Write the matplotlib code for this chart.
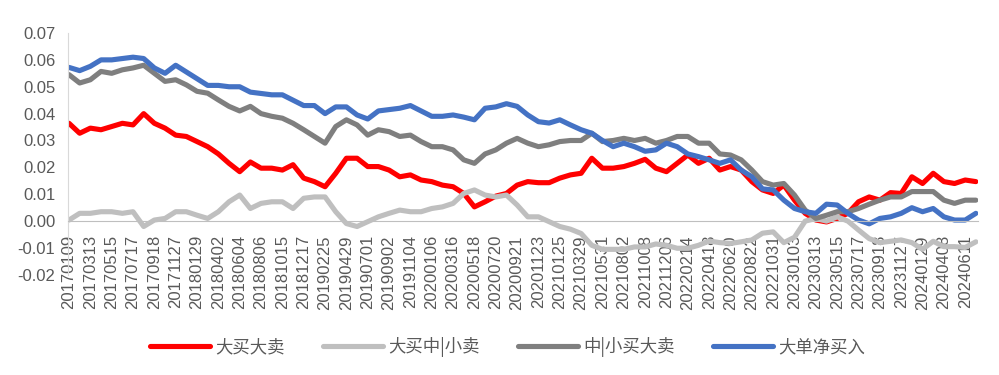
import numpy as np
import matplotlib
matplotlib.use('Agg')
import matplotlib.pyplot as plt

plt.rcParams['font.family'] = ['Liberation Sans', 'Noto Sans CJK SC', 'DejaVu Sans']

dates = ['20170109', '20170313', '20170515', '20170717', '20170918', '20171127',
         '20180129', '20180402', '20180604', '20180806', '20181015', '20181217',
         '20190225', '20190429', '20190701', '20190902', '20191104', '20200106',
         '20200316', '20200518', '20200720', '20200921', '20201123', '20210125',
         '20210329', '20210531', '20210802', '20211008', '20211206', '20220214',
         '20220418', '20220620', '20220822', '20221031', '20230103', '20230313',
         '20230515', '20230717', '20230918', '20231127', '20240129', '20240408',
         '20240611']

# 大买大卖
big_big = [0.0364, 0.0327, 0.0346, 0.0340, 0.0352, 0.0364, 0.0358, 0.0400, 0.0364, 0.0346,
           0.0320, 0.0315, 0.0296, 0.0277, 0.0250, 0.0215, 0.0184, 0.0220, 0.0197, 0.0197,
           0.0190, 0.0210, 0.0160, 0.0147, 0.0128, 0.0178, 0.0234, 0.0234, 0.0203, 0.0203,
           0.0190, 0.0165, 0.0172, 0.0153, 0.0147, 0.0134, 0.0128, 0.0103, 0.0053, 0.0072,
           0.0093, 0.0103, 0.0134, 0.0147, 0.0143, 0.0143, 0.0160, 0.0172, 0.0178, 0.0234,
           0.0197, 0.0197, 0.0203, 0.0215, 0.0230, 0.0197, 0.0184, 0.0215, 0.0246, 0.0215,
           0.0234, 0.0190, 0.0203, 0.0190, 0.0147, 0.0116, 0.0103, 0.0134, 0.0078, 0.0029,
           0.0004, -0.0003, 0.0010, 0.0029, 0.0072, 0.0090, 0.0078, 0.0106, 0.0103, 0.0165,
           0.0140, 0.0178, 0.0147, 0.0140, 0.0153, 0.0147]

# 大买中|小卖
big_small = [0.0004, 0.0029, 0.0029, 0.0035, 0.0035, 0.0029, 0.0035, -0.0020, 0.0004, 0.0010,
             0.0035, 0.0035, 0.0022, 0.0010, 0.0035, 0.0072, 0.0097, 0.0047, 0.0066, 0.0072,
             0.0072, 0.0047, 0.0085, 0.0090, 0.0090, 0.0035, -0.0009, -0.0020, -0.0002, 0.0016,
             0.0029, 0.0041, 0.0035, 0.0035, 0.0047, 0.0053, 0.0066, 0.0103, 0.0116, 0.0097,
             0.0090, 0.0097, 0.0060, 0.0016, 0.0016, -0.0002, -0.0020, -0.0030, -0.0046, -0.0090,
             -0.0105, -0.0105, -0.0105, -0.0096, -0.0096, -0.0085, -0.0090, -0.0101, -0.0101, -0.0090,
             -0.0074, -0.0080, -0.0083, -0.0077, -0.0070, -0.0045, -0.0040, -0.0080, -0.0060, 0.0000,
             0.0010, 0.0000, 0.0016, 0.0000, -0.0033, -0.0065, -0.0080, -0.0075, -0.0070, -0.0080,
             -0.0105, -0.0075, -0.0095, -0.0095, -0.0098, -0.0077]

# 中|小买大卖
small_big = [0.0545, 0.0514, 0.0526, 0.0557, 0.0550, 0.0563, 0.0570, 0.0580, 0.0550, 0.0520,
             0.0526, 0.0507, 0.0483, 0.0476, 0.0451, 0.0427, 0.0410, 0.0427, 0.0400, 0.0390,
             0.0383, 0.0364, 0.0340, 0.0315, 0.0290, 0.0352, 0.0377, 0.0358, 0.0320, 0.0340,
             0.0333, 0.0315, 0.0320, 0.0296, 0.0277, 0.0277, 0.0265, 0.0228, 0.0215, 0.0250,
             0.0265, 0.0290, 0.0308, 0.0290, 0.0277, 0.0284, 0.0296, 0.0300, 0.0300, 0.0327,
             0.0296, 0.0300, 0.0308, 0.0300, 0.0308, 0.0290, 0.0300, 0.0315, 0.0315, 0.0290,
             0.0290, 0.0250, 0.0246, 0.0228, 0.0190, 0.0147, 0.0134, 0.0140, 0.0097, 0.0041,
             0.0010, 0.0022, 0.0035, 0.0035, 0.0047, 0.0063, 0.0078, 0.0090, 0.0090, 0.0110,
             0.0110, 0.0110, 0.0078, 0.0066, 0.0078, 0.0078]

# 大单净买入
big_net = [0.0572, 0.0560, 0.0576, 0.0600, 0.0600, 0.0605, 0.0610, 0.0605, 0.0570, 0.0550,
           0.0580, 0.0555, 0.0530, 0.0505, 0.0505, 0.0500, 0.0500, 0.0480, 0.0475, 0.0470,
           0.0470, 0.0450, 0.0430, 0.0430, 0.0400, 0.0425, 0.0425, 0.0395, 0.0380, 0.0410,
           0.0415, 0.0420, 0.0430, 0.0410, 0.0390, 0.0390, 0.0395, 0.0387, 0.0377, 0.0420,
           0.0425, 0.0437, 0.0427, 0.0395, 0.0370, 0.0365, 0.0377, 0.0358, 0.0340, 0.0327,
           0.0300, 0.0277, 0.0290, 0.0277, 0.0260, 0.0265, 0.0290, 0.0277, 0.0250, 0.0240,
           0.0228, 0.0215, 0.0228, 0.0190, 0.0165, 0.0120, 0.0116, 0.0078, 0.0047, 0.0035,
           0.0029, 0.0063, 0.0060, 0.0029, 0.0004, -0.0010, 0.0010, 0.0016, 0.0029, 0.0050,
           0.0035, 0.0047, 0.0016, 0.0004, 0.0004, 0.0029]

names = ['大买大卖', '大买中|小卖', '中|小买大卖', '大单净买入']
colors = ['#FF0000', '#BFBFBF', '#7F7F7F', '#4472C4']

# two samples per labelled tick
x = np.arange(len(big_big)) * 0.5

fig = plt.figure(figsize=(9.99, 3.75), dpi=100)
ax = fig.add_axes([0.068, 0.267, 0.911, 0.645])

for y, c, n in zip([big_big, big_small, small_big, big_net], colors, names):
    ax.plot(x, y, color=c, lw=3.7, label=n, solid_capstyle='round', solid_joinstyle='round')

ax.set_ylim(-0.02, 0.07)
ax.set_xlim(-0.05, 42.6)
yt = np.arange(-0.02, 0.0701, 0.01)
ax.set_yticks(yt)
ax.set_yticklabels(['%.2f' % v for v in yt])
ax.set_xticks(range(len(dates)))
ax.set_xticklabels(dates)

ax.spines['top'].set_visible(False)
ax.spines['right'].set_visible(False)
ax.spines['bottom'].set_position(('data', 0))
ax.spines['bottom'].set_color('#BFBFBF')
ax.spines['left'].set_color('#D9D9D9')
ax.tick_params(axis='both', length=0, colors='#595959')
ax.tick_params(axis='y', labelsize=12, pad=9)
ax.tick_params(axis='x', labelsize=12, pad=10, labelrotation=90)

leg = fig.legend(loc='center', bbox_to_anchor=(0.508, 0.075), ncol=4, frameon=False,
                 handlelength=3.45, handletextpad=0.3, columnspacing=2.2,
                 prop={'family': ['Noto Sans CJK SC', 'DejaVu Sans'], 'size': 12.5})
for t in leg.get_texts():
    t.set_color('#595959')

fig.savefig('out.png', dpi=100)
